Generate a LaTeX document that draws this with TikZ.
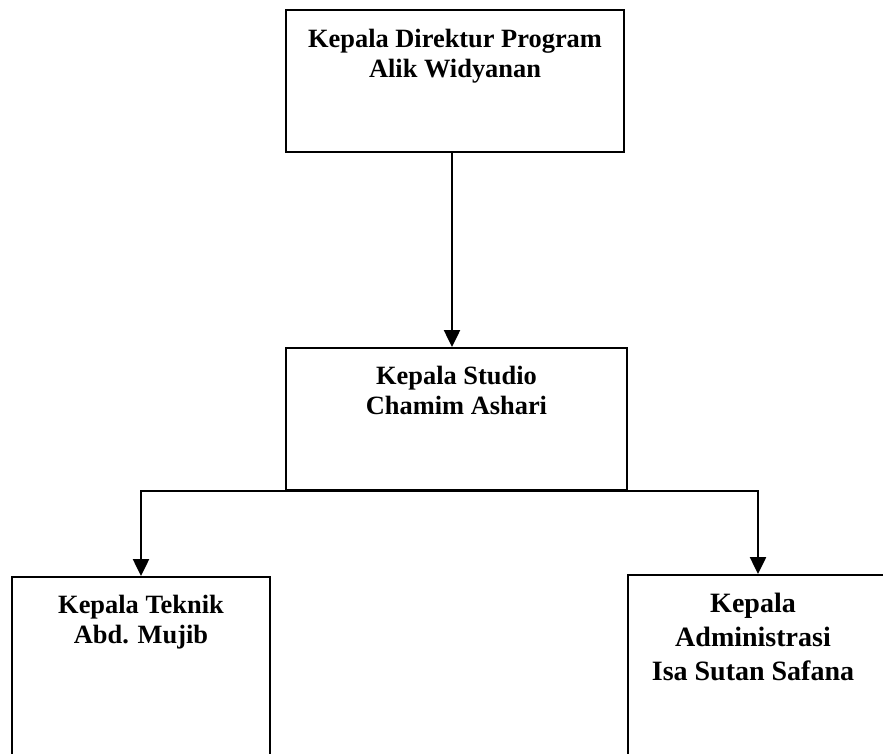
\documentclass[tikz,border=0pt]{standalone}
\usepackage{fontspec}
\setmainfont{Liberation Serif}
\usetikzlibrary{positioning, arrows.meta}
\tikzset{
  jabatan/.style={rectangle, draw=black, line width=2pt, inner sep=0pt},
  nama/.style={inner sep=0pt, align=center, font=\bfseries\fontsize{26.4}{30}\selectfont},
  arrow/.style={line width=2.5pt, -{Triangle[width=16pt,length=17pt]}}
}

\begin{document}
\begin{tikzpicture}[x=1pt, y=-1pt]
    \clip (0,0) rectangle (883,753); % ukuran halaman
    \node (direktur) [jabatan, minimum width=338pt, minimum height=142pt] at (455,81) {};
    \node (studio) [jabatan, minimum width=341pt, minimum height=142pt] at (456.5,419) {};
    \node (teknik) [jabatan, minimum width=258pt, minimum height=220pt] at (141,687) {};
    \node (admin) [jabatan, minimum width=260pt, minimum height=220pt] at (758,685) {};

    \node (direkturtxt) [nama, below=20pt of direktur.north] {Kepala Direktur Program\\Alik Widyanan};
    \node (studiotxt) [nama, below=19pt of studio.north] {Kepala Studio\\Chamim Ashari};
    \node (tekniktxt) [nama, below=19pt of teknik.north] {Kepala Teknik\\Abd. Mujib};
    \node (admintxt) [nama, font=\bfseries\fontsize{28}{34}\selectfont, below=19pt of admin.north, xshift=-5pt] {Kepala\\Administrasi\\Isa Sutan Safana};

    \draw [arrow] ([xshift=-3pt]direktur.south) -- ([xshift=-3pt]direktur.south |- studio.north);
    \draw [arrow] (studio.south) -| (teknik.north);
    \draw [arrow] (studio.south) -| (admin.north);
\end{tikzpicture}
\end{document}
